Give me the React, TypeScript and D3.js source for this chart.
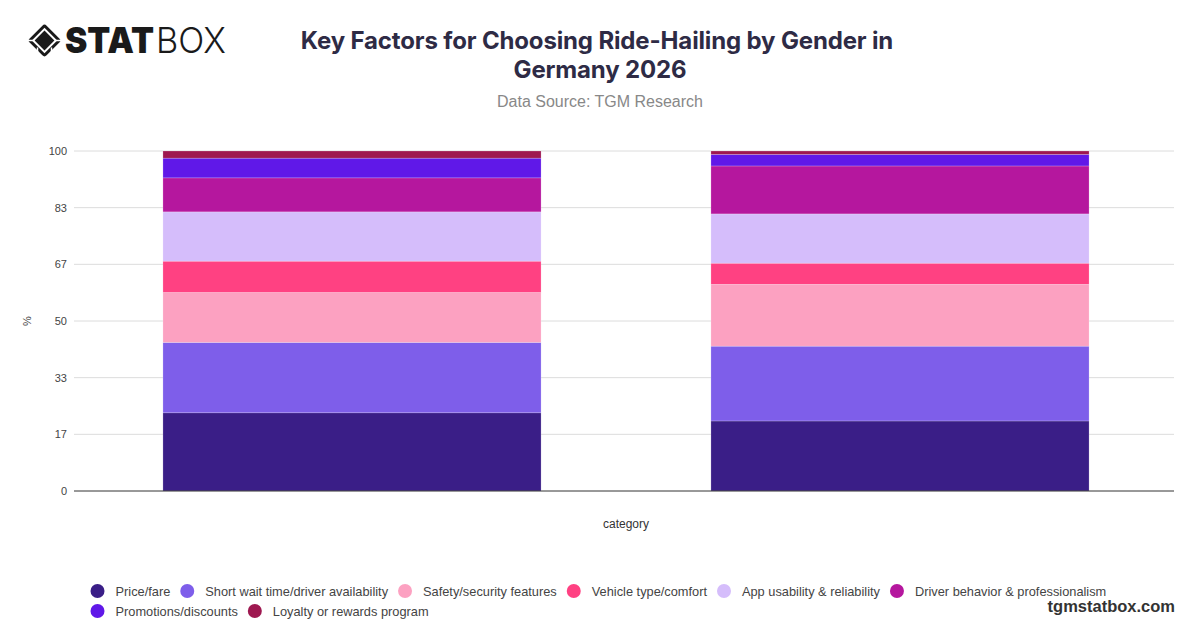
import React from "react";
import * as d3 from "d3";

const categories = ["Male", "Female"];
const seriesNames = [
  "Price/fare",
  "Short wait time/driver availability",
  "Safety/security features",
  "Vehicle type/comfort",
  "App usability & reliability",
  "Driver behavior & professionalism",
  "Promotions/discounts",
  "Loyalty or rewards program",
];
const seriesColors = [
  "#3a1e87",
  "#7e5eea",
  "#fca1c1",
  "#ff4182",
  "#d5bdfb",
  "#b5179e",
  "#6018e8",
  "#9e1850",
];
const maleValues = [23.0, 20.7, 14.7, 9.2, 14.5, 10.0, 5.8, 2.1];
const femaleValues = [20.6, 22.0, 18.2, 6.2, 14.5, 14.1, 3.4, 1.0];
const tickValues = [0, 100 / 6, 200 / 6, 50, 400 / 6, 500 / 6, 100];
const tickLabels = ["0", "17", "33", "50", "67", "83", "100"];

const W = 1200;
const H = 628;
const left = 74;
const right = 1174;
const top = 151;
const bottom = 491;

const LEGEND_FONT_SIZE = 12.8;
const LEGEND_FONT_FAMILY = "'Liberation Sans', Arial, sans-serif";

function measure(text: string, font: string): number {
  const c = document.createElement("canvas");
  const ctx = c.getContext("2d");
  if (!ctx) return text.length * 7;
  ctx.font = font;
  return ctx.measureText(text).width;
}

export default function App() {
  const x = d3
    .scaleBand<string>()
    .domain(categories)
    .range([78, right])
    .paddingInner(0.31)
    .paddingOuter(0.155);
  const y = d3.scaleLinear().domain([0, 100]).range([bottom, top]);

  const rows = categories.map((c, i) => {
    const vals = i === 0 ? maleValues : femaleValues;
    const obj: Record<string, any> = { category: c };
    seriesNames.forEach((s, j) => (obj[s] = vals[j]));
    return obj;
  });
  const stacked = d3.stack<any>().keys(seriesNames)(rows);

  // legend layout
  const legendFont = `${LEGEND_FONT_SIZE}px ${LEGEND_FONT_FAMILY}`;
  const legendItems: { name: string; color: string; cx: number; cy: number }[] = [];
  const startX = 97.5;
  let cx = startX;
  let ly = 591;
  const maxX = 1130;
  seriesNames.forEach((s, i) => {
    const w = measure(s, legendFont);
    if (cx + 18 + w > maxX) {
      cx = startX;
      ly += 20;
    }
    legendItems.push({ name: s, color: seriesColors[i], cx, cy: ly });
    cx += 18 + w + 17;
  });

  return (
    <svg
      width={W}
      height={H}
      style={{ display: "block", position: "absolute", left: 0, top: 0, background: "#fff" }}
    >
      <rect x={0} y={0} width={W} height={H} fill="#fff" />
      {/* Logo */}
      <g transform="translate(44.5,40.5)">
        <rect x={-12} y={-12} width={24} height={24} rx={3} transform="rotate(45)" fill="#1a1a1a" />
        <rect x={-8} y={-8} width={16} height={16} transform="rotate(45)" fill="none" stroke="#fff" strokeWidth={2} />
        <line x1={-17} y1={0} x2={-11} y2={0} stroke="#fff" strokeWidth={1.5} />
        <line x1={11} y1={0} x2={17} y2={0} stroke="#fff" strokeWidth={1.5} />
        <line x1={-7} y1={7} x2={-7} y2={13} stroke="#fff" strokeWidth={1.5} />
        <line x1={7} y1={7} x2={7} y2={13} stroke="#fff" strokeWidth={1.5} />
      </g>
      <text
        x={65}
        y={53}
        fontFamily="Inter, 'DejaVu Sans', sans-serif"
        fontWeight={900}
        fontSize={36}
        fill="#1a1a1a"
        textLength={89}
        lengthAdjust="spacingAndGlyphs"
      >
        STAT
      </text>
      <text
        x={156}
        y={53}
        fontFamily="Inter, 'DejaVu Sans', sans-serif"
        fontWeight={300}
        fontSize={36}
        fill="#1a1a1a"
        textLength={70}
        lengthAdjust="spacingAndGlyphs"
      >
        BOX
      </text>

      {/* Title */}
      <text
        x={597}
        y={49}
        textAnchor="middle"
        fontFamily="Inter, sans-serif"
        fontWeight={700}
        fontSize={24}
        fill="#2e2b45"
        letterSpacing={-0.15}
      >
        Key Factors for Choosing Ride-Hailing by Gender in
      </text>
      <text
        x={600}
        y={78}
        textAnchor="middle"
        fontFamily="Inter, sans-serif"
        fontWeight={700}
        fontSize={24}
        fill="#2e2b45"
        letterSpacing={-0.15}
      >
        Germany 2026
      </text>
      <text
        x={600}
        y={107}
        textAnchor="middle"
        fontFamily="'Liberation Sans', Arial, sans-serif"
        fontSize={16}
        fill="#888"
      >
        Data Source: TGM Research
      </text>

      {/* gridlines and y ticks */}
      {tickValues.map((t, i) => (
        <g key={i}>
          {i > 0 && (
            <line x1={left} x2={right} y1={y(t)} y2={y(t)} stroke="#dcdcdc" strokeWidth={1} />
          )}
          <text
            x={67}
            y={y(t) + 4}
            textAnchor="end"
            fontFamily="'Liberation Sans', Arial, sans-serif"
            fontSize={11}
            fill="#444"
          >
            {tickLabels[i]}
          </text>
        </g>
      ))}
      <text
        transform={`translate(31,${(top + bottom) / 2}) rotate(-90)`}
        textAnchor="middle"
        fontFamily="'Liberation Sans', Arial, sans-serif"
        fontSize={11}
        fill="#444"
      >
        %
      </text>

      {/* bars */}
      {stacked.map((layer, si) => (
        <g key={si} fill={seriesColors[si]}>
          {layer.map((d, ci) => (
            <rect
              key={ci}
              x={x(categories[ci])}
              width={x.bandwidth()}
              y={y(d[1])}
              height={y(d[0]) - y(d[1])}
              stroke="rgba(255,255,255,0.35)"
              strokeWidth={0.6}
            />
          ))}
        </g>
      ))}

      <line x1={left} x2={right} y1={bottom} y2={bottom} stroke="#333" strokeWidth={1} />
      <text
        x={626}
        y={528}
        textAnchor="middle"
        fontFamily="'Liberation Sans', Arial, sans-serif"
        fontSize={12}
        fill="#333"
      >
        category
      </text>

      {/* legend */}
      {legendItems.map((it, i) => (
        <g key={i}>
          <circle cx={it.cx} cy={it.cy} r={7} fill={it.color} />
          <text
            x={it.cx + 18}
            y={it.cy + 4.5}
            fontFamily={LEGEND_FONT_FAMILY}
            fontSize={LEGEND_FONT_SIZE}
            fill="#444"
          >
            {it.name}
          </text>
        </g>
      ))}

      <text
        x={1175}
        y={612}
        textAnchor="end"
        fontFamily="'Liberation Sans', Arial, sans-serif"
        fontWeight={700}
        fontSize={16.5}
        fill="#333"
      >
        tgmstatbox.com
      </text>
    </svg>
  );
}
